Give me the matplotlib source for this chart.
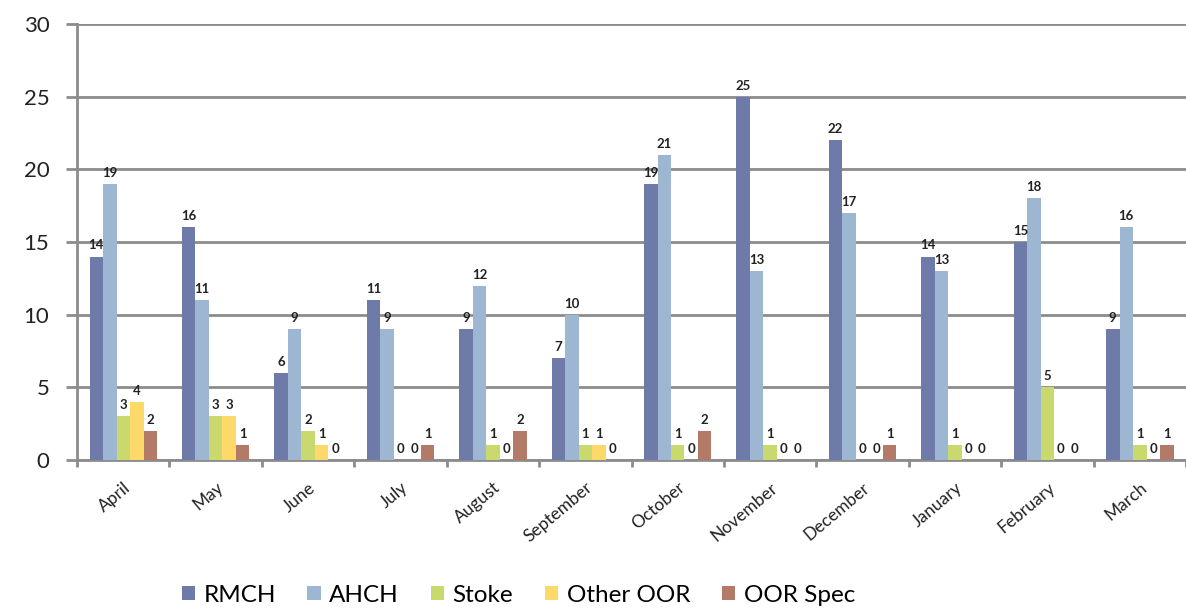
import matplotlib.pyplot as plt
import numpy as np

months = ['April', 'May', 'June', 'July', 'August', 'September', 'October',
          'November', 'December', 'January', 'February', 'March']
rmch = [14, 16, 6, 11, 9, 7, 19, 25, 22, 14, 15, 9]
ahch = [19, 11, 9, 9, 12, 10, 21, 13, 17, 13, 18, 16]
stoke = [3, 3, 2, 0, 1, 1, 1, 1, 0, 1, 5, 1]
other_oor = [4, 3, 1, 0, 0, 1, 0, 0, 0, 0, 0, 0]
oor_spec = [2, 1, 0, 1, 2, 0, 2, 0, 1, 0, 0, 1]

series = [('RMCH', rmch, '#6E7AA8'),
          ('AHCH', ahch, '#9DB6D2'),
          ('Stoke', stoke, '#C9D96E'),
          ('Other OOR', other_oor, '#FDD96A'),
          ('OOR Spec', oor_spec, '#B47A68')]

plt.rcParams['font.family'] = ['Lato', 'DejaVu Sans']

fig = plt.figure(figsize=(11.86, 6.08), dpi=100)
ax = fig.add_axes([0.065, 0.2434, 0.935, 0.7171])

x = np.arange(len(months))
w = 0.146
for i, (name, vals, col) in enumerate(series):
    pos = x + (i - 2) * w
    ax.bar(pos, vals, w, color=col, label=name, zorder=3)
    for p, v in zip(pos, vals):
        ax.text(p, v + 0.35, str(v), ha='center', va='bottom',
                fontsize=9.5, fontweight='bold', color='#222222', zorder=4)

ax.set_xlim(-0.5, len(months) - 0.5)
ax.set_ylim(0, 30)
ax.set_yticks(range(0, 31, 5))
ax.yaxis.grid(True, color='#8C8C8C', linewidth=2, zorder=0)
ax.set_axisbelow(True)

ax.set_xticks(x)
ax.set_xticklabels(months, rotation=40, ha='right', rotation_mode='anchor',
                   fontsize=12.5, color='#222222')
ax.set_xticks(np.arange(-0.5, len(months)), minor=True)
ax.tick_params(axis='x', which='major', length=0, pad=14)
ax.tick_params(axis='x', which='minor', length=5, width=2, color='#8C8C8C')
ax.tick_params(axis='y', length=8, width=2, color='#8C8C8C', labelsize=16,
               pad=12, labelcolor='#222222')

for s in ['top', 'right']:
    ax.spines[s].set_visible(False)
for s in ['left', 'bottom']:
    ax.spines[s].set_color('#8C8C8C')
    ax.spines[s].set_linewidth(2)

fig.legend(loc='lower center', bbox_to_anchor=(0.437, -0.032), ncol=5,
           frameon=False, fontsize=17.5, handlelength=0.55, handleheight=0.55,
           handletextpad=0.35, columnspacing=1.3)

fig.savefig('out.png', dpi=100)
